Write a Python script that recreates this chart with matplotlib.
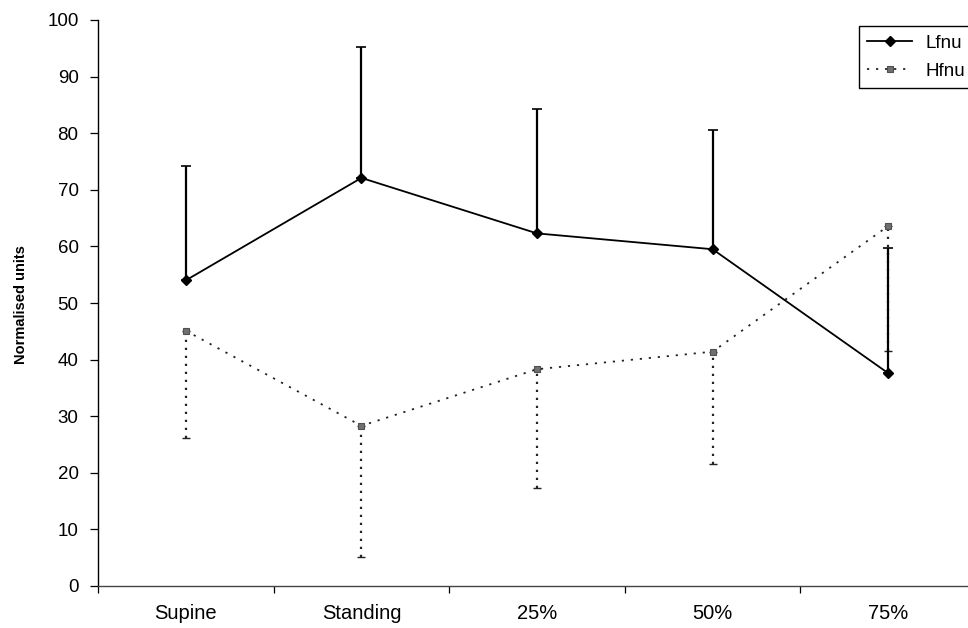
import matplotlib
matplotlib.use("Agg")
import matplotlib.pyplot as plt
import numpy as np

plt.rcParams['font.family'] = ['Liberation Sans', 'DejaVu Sans']

categories = ['Supine', 'Standing', '25%', '50%', '75%']
lfnu = [54.0, 72.1, 62.3, 59.5, 37.6]
lfnu_sd = [20.2, 23.2, 22.0, 21.1, 22.1]
hfnu = [45.1, 28.3, 38.3, 41.4, 63.6]
hfnu_sd = [19.0, 23.1, 21.0, 19.8, 22.0]
yticks = [0, 10, 20, 30, 40, 50, 60, 70, 80, 90, 100]

W, H = 968, 628
fig = plt.figure(figsize=(W / 100, H / 100), dpi=100)
ax = fig.add_axes([98 / W, (H - 586) / H, (976 - 98) / W, (586 - 20) / H])

x = np.arange(len(categories))

# Hfnu: dotted line, downward error bars
eb_h = ax.errorbar(x, hfnu, yerr=[hfnu_sd, [0] * len(hfnu)], fmt='none',
                   ecolor='#222222', elinewidth=1.6, capsize=3.2,
                   capthick=1.0, zorder=2)
for lc in eb_h[2]:
    lc.set_linestyle((0, (1, 2.6)))
for cap in eb_h[1]:
    cap.set_color('#555555')
ax.plot(x, hfnu, linestyle=(0, (1.2, 3.8)), color='#222222', lw=1.3,
        marker='s', markersize=5.0, markerfacecolor='#707070',
        markeredgecolor='#505050', markeredgewidth=0.8, label='Hfnu', zorder=3)

# Lfnu: solid line, upward error bars
ax.errorbar(x, lfnu, yerr=[[0] * len(lfnu), lfnu_sd], fmt='none',
            ecolor='black', elinewidth=1.6, capsize=3.6, capthick=1.2, zorder=4)
ax.plot(x, lfnu, linestyle='-', color='black', lw=1.3, marker='D',
        markersize=5.5, markerfacecolor='black', markeredgecolor='black',
        label='Lfnu', zorder=5)

ax.set_xlim(-0.5, len(categories) - 0.5)
ax.set_ylim(0, 100)

ax.set_yticks(yticks)
ax.set_yticklabels([str(t) for t in yticks], fontsize=13.5)
ax.tick_params(axis='y', direction='out', length=6, width=0.9, pad=8)

ax.set_xticks(np.arange(len(categories) + 1) - 0.5)
ax.set_xticklabels([''] * (len(categories) + 1))
ax.set_xticks(x, minor=True)
ax.set_xticklabels(categories, minor=True, fontsize=14.5)
ax.tick_params(axis='x', which='major', direction='out', length=5, width=0.9)
ax.tick_params(axis='x', which='minor', length=0, pad=13)

for s in ['top', 'right']:
    ax.spines[s].set_visible(False)
ax.spines['left'].set_linewidth(1.0)
ax.spines['bottom'].set_linewidth(1.0)
ax.spines['bottom'].set_color('#444444')

fig.text(21 / W, 1 - 305 / H, 'Normalised units', rotation=90,
         ha='center', va='center', fontsize=10.5, fontweight='bold')

handles, labels = ax.get_legend_handles_labels()
order = [1, 0]
leg = fig.legend([handles[i] for i in order], [labels[i] for i in order],
                 loc='upper left', bbox_to_anchor=(859 / W, 1 - 26 / H),
                 bbox_transform=fig.transFigure,
                 fontsize=13.5, frameon=True, fancybox=False, framealpha=1,
                 edgecolor='black', handlelength=2.4, handletextpad=0.7,
                 labelspacing=0.6, borderpad=0.45, borderaxespad=0)
leg.get_frame().set_linewidth(1.0)

fig.savefig('out.png', dpi=100)
